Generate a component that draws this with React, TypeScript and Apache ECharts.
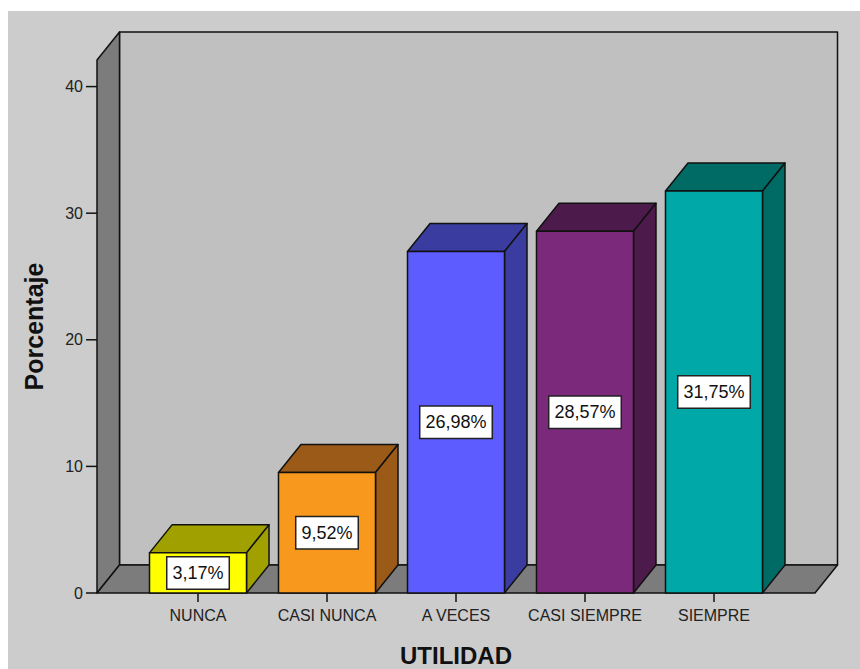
import React, { useEffect, useRef } from "react";
import * as echarts from "echarts";

// Utilidad percentages per answer category
const categories = ["NUNCA", "CASI NUNCA", "A VECES", "CASI SIEMPRE", "SIEMPRE"];
const percentages = [3.17, 9.52, 26.98, 28.57, 31.75];
const yTicks = [0, 10, 20, 30, 40];

// front / shaded face colours per bar
const frontColors = ["#ffff00", "#f8981d", "#5c5cff", "#7b2a7b", "#00a8a8"];
const shadeColors = ["#a0a000", "#9b5a17", "#3a3c9f", "#4d1a4c", "#006b64"];

// 3D depth offset in pixels
const DX = 22.5;
const DY = -28;
const HALF_BAR = 0.376;
const X_PAD = 0.783;
const Y_MAX = 42.1;
const Y_TICK_LEN = 11;
const X_TICK_LEN = 9;

const FONT = "'Liberation Sans', Arial, sans-serif";

function formatPct(v: number): string {
  return v.toFixed(2).replace(".", ",") + "%";
}

export default function App() {
  const ref = useRef<HTMLDivElement>(null);

  useEffect(() => {
    if (!ref.current) return;
    const chart = echarts.init(ref.current, null, { renderer: "svg" });

    const outline = { stroke: "#111", lineWidth: 1.5, lineJoin: "round" };
    const tickStyle = { stroke: "#111", lineWidth: 1.5 };

    const option: any = {
      animation: false,
      backgroundColor: "#cccccc",
      grid: { left: 89, right: 45, top: 49, bottom: 76, outerBoundsMode: "none", containLabel: false },
      xAxis: {
        type: "value",
        min: -X_PAD,
        max: categories.length - 1 + X_PAD,
        splitLine: { show: false },
        axisLine: { show: false },
        axisTick: { show: false },
        axisLabel: {
          customValues: categories.map((_, i) => i),
          formatter: (v: number) => categories[Math.round(v)] ?? "",
          margin: 14,
          fontFamily: FONT,
          fontSize: 16,
          color: "#222",
        },
        name: "UTILIDAD",
        nameLocation: "middle",
        nameGap: 50,
        nameTextStyle: { fontFamily: FONT, fontSize: 24, fontWeight: "bold", color: "#111" },
      },
      yAxis: {
        type: "value",
        min: 0,
        max: Y_MAX,
        splitLine: { show: false },
        axisLine: { show: false },
        axisTick: { show: false },
        axisLabel: {
          customValues: yTicks,
          margin: 14,
          fontFamily: FONT,
          fontSize: 16,
          color: "#222",
        },
        name: "Porcentaje",
        nameLocation: "middle",
        nameRotate: 90,
        nameGap: 51,
        nameTextStyle: { fontFamily: FONT, fontSize: 25, fontWeight: "bold", color: "#111" },
      },
      series: [
        {
          // walls, floor and tick marks of the 3D box
          type: "custom",
          z: 1,
          silent: true,
          data: [[0, 0]],
          renderItem: (params: any, api: any) => {
            const cs = params.coordSys;
            const gx = cs.x, gy = cs.y, gw = cs.width, gh = cs.height;
            const by = gy + gh;
            const yTickLines = yTicks.map((t) => {
              const p = api.coord([-X_PAD, t]);
              return {
                type: "line",
                shape: { x1: p[0] - Y_TICK_LEN, y1: p[1], x2: p[0], y2: p[1] },
                style: tickStyle,
              };
            });
            const xTickLines = categories.map((_, i) => {
              const p = api.coord([i, 0]);
              return {
                type: "line",
                shape: { x1: p[0], y1: p[1], x2: p[0], y2: p[1] + X_TICK_LEN },
                style: tickStyle,
              };
            });
            return {
              type: "group",
              children: [
                {
                  type: "rect",
                  shape: { x: gx + DX, y: gy + DY, width: gw, height: gh },
                  style: { fill: "#c0c0c0", ...outline },
                },
                {
                  type: "polygon",
                  shape: { points: [[gx, gy], [gx + DX, gy + DY], [gx + DX, by + DY], [gx, by]] },
                  style: { fill: "#7c7c7c", ...outline },
                },
                {
                  type: "polygon",
                  shape: { points: [[gx, by], [gx + DX, by + DY], [gx + gw + DX, by + DY], [gx + gw, by]] },
                  style: { fill: "#7c7c7c", ...outline },
                },
                ...yTickLines,
                ...xTickLines,
              ],
            };
          },
        },
        {
          type: "custom",
          z: 2,
          data: percentages.map((v, i) => [i, v]),
          encode: { x: 0, y: 1 },
          renderItem: (params: any, api: any) => {
            const i = api.value(0);
            const v = api.value(1);
            const tl = api.coord([i - HALF_BAR, v]);
            const br = api.coord([i + HALF_BAR, 0]);
            const x0 = tl[0], y0 = tl[1], x1 = br[0], y1 = br[1];
            const idx = params.dataIndex;
            return {
              type: "group",
              children: [
                {
                  type: "polygon",
                  shape: { points: [[x0, y0], [x0 + DX, y0 + DY], [x1 + DX, y0 + DY], [x1, y0]] },
                  style: { fill: shadeColors[idx], ...outline },
                },
                {
                  type: "polygon",
                  shape: { points: [[x1, y0], [x1 + DX, y0 + DY], [x1 + DX, y1 + DY], [x1, y1]] },
                  style: { fill: shadeColors[idx], ...outline },
                },
                {
                  type: "rect",
                  shape: { x: x0, y: y0, width: x1 - x0, height: y1 - y0 },
                  style: { fill: frontColors[idx], ...outline },
                },
                {
                  type: "text",
                  x: (x0 + x1) / 2,
                  y: (y0 + y1) / 2,
                  style: {
                    text: formatPct(v),
                    fontFamily: FONT,
                    fontSize: 18,
                    fill: "#111",
                    align: "center",
                    verticalAlign: "middle",
                    backgroundColor: "#ffffff",
                    borderColor: "#222",
                    borderWidth: 1.5,
                    padding: [7, 5, 6, 5],
                  },
                },
              ],
            };
          },
        },
      ],
    };

    chart.setOption(option);
    return () => chart.dispose();
  }, []);

  return (
    <div
      ref={ref}
      style={{ position: "absolute", left: 8, top: 11, width: 852, height: 658 }}
    />
  );
}
